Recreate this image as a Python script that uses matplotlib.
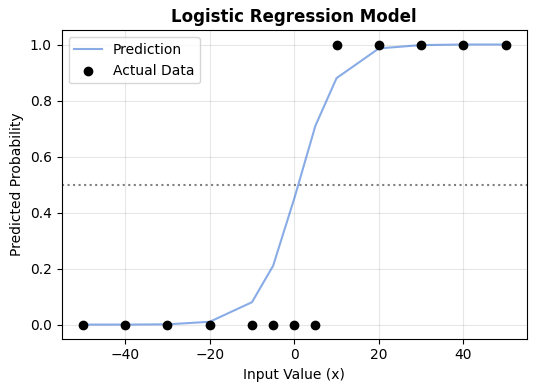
import matplotlib
matplotlib.use("Agg")
import matplotlib.pyplot as plt

x_values = [-50, -40, -30, -20, -10, -5, 0, 5, 10, 20, 30, 40, 50]
y_actual = [0, 0, 0, 0, 0, 0, 0, 0, 1, 1, 1, 1, 1]
y_pred = [0.0, 0.0001, 0.001, 0.01, 0.08, 0.21, 0.45, 0.71, 0.88, 0.986, 0.998, 1.0, 1.0]

fig = plt.figure(figsize=(5.36, 3.91), dpi=100)
ax = fig.add_axes([0.115, 0.134, 0.868, 0.788])

ax.plot(x_values, y_pred, color="#3a75d6", alpha=0.6, label="Prediction")
ax.scatter(x_values, y_actual, color="black", label="Actual Data", zorder=3)
ax.axhline(0.5, color="gray", linestyle=":")

ax.set_title("Logistic Regression Model", fontweight="bold")
ax.set_xlabel("Input Value (x)")
ax.set_ylabel("Predicted Probability")
ax.grid(True, alpha=0.3)
ax.legend(loc="upper left")

fig.savefig("out.png")
